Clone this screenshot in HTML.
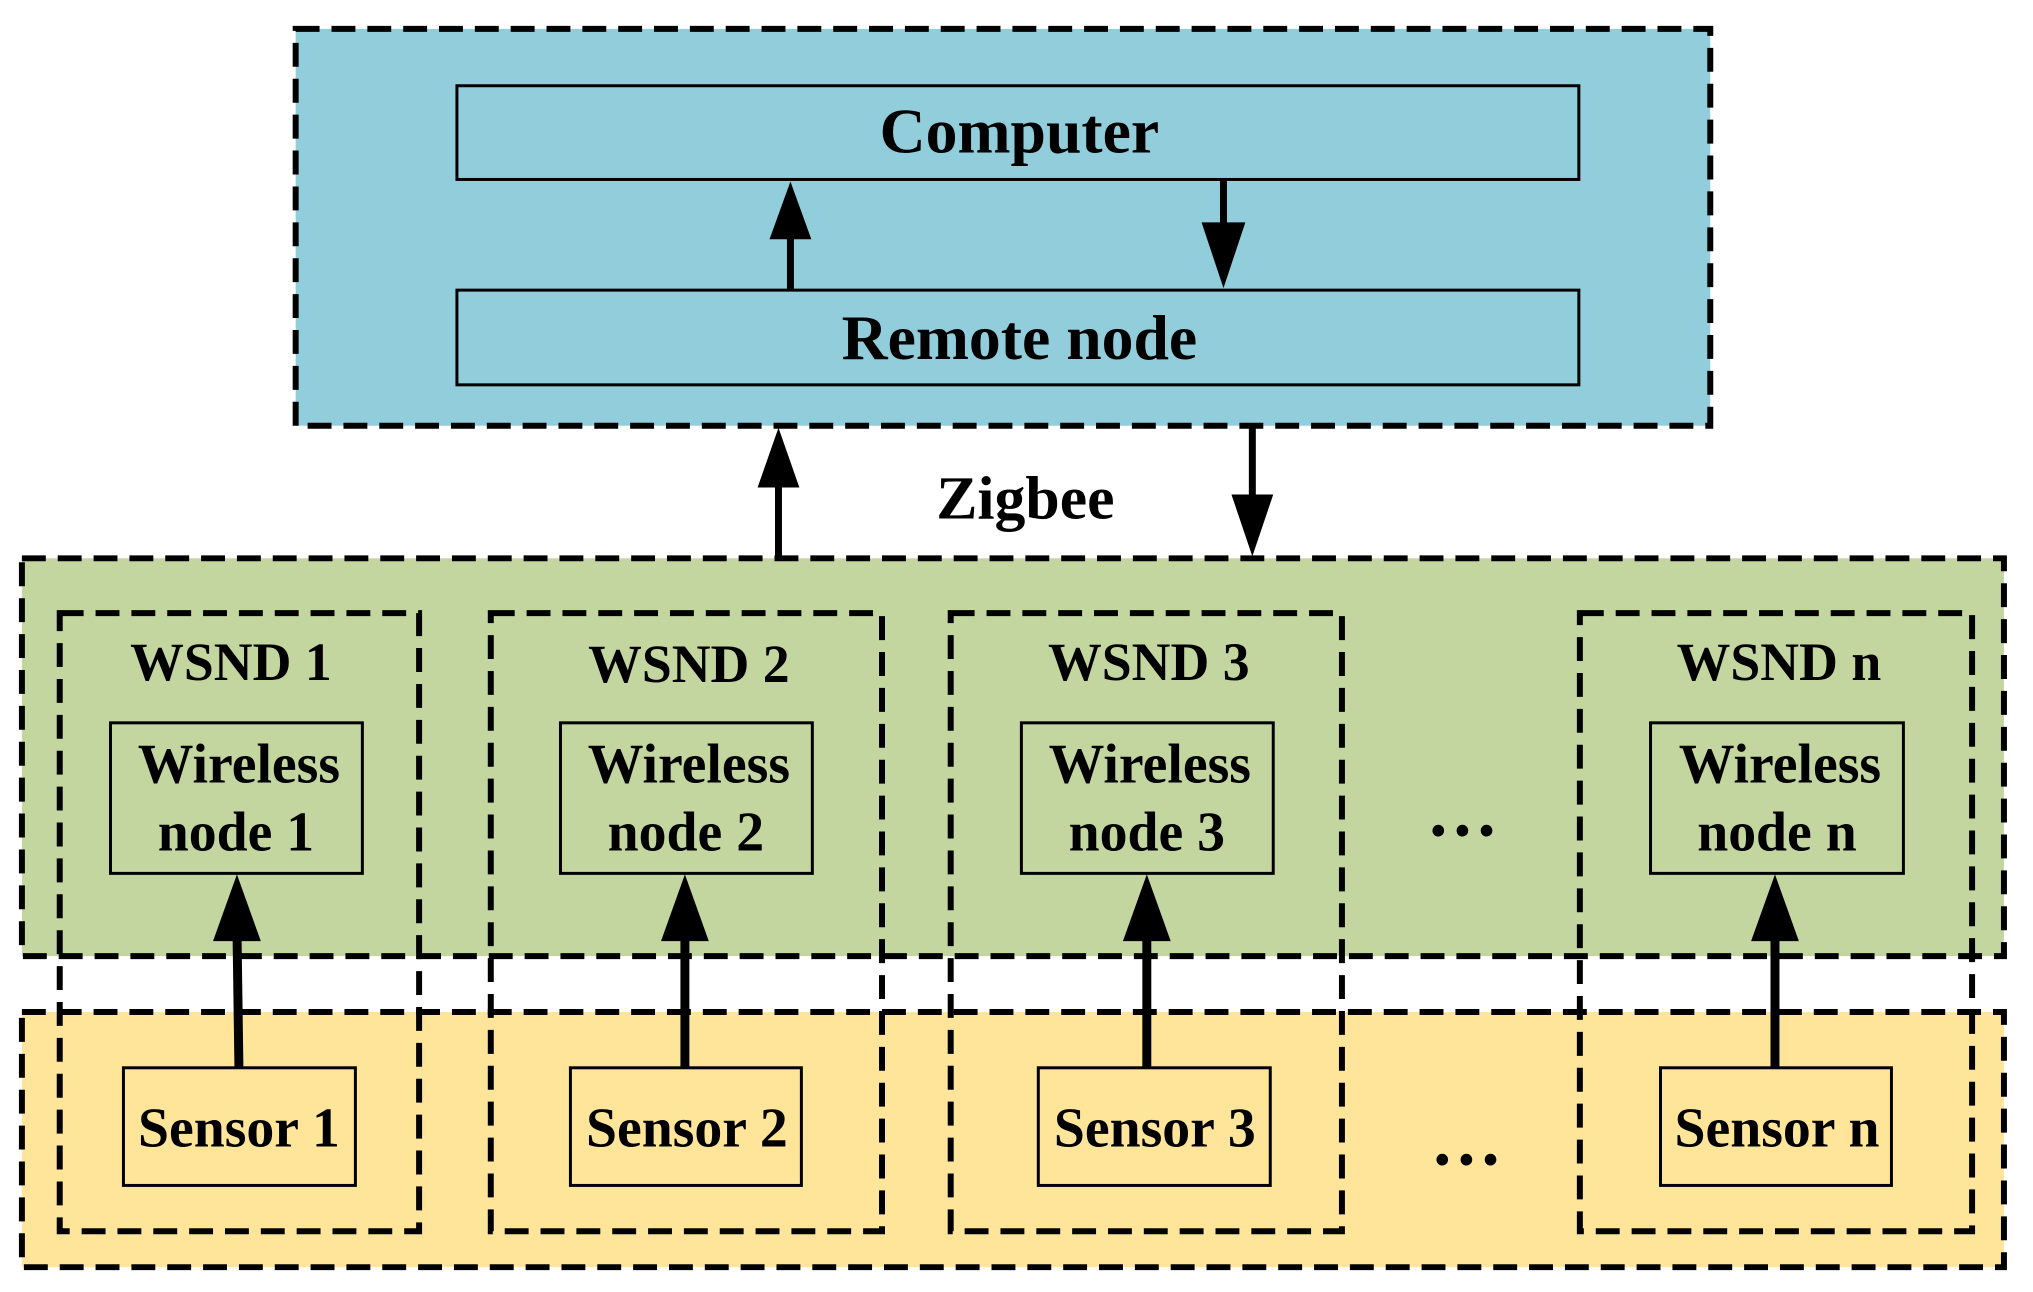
<!DOCTYPE html>
<html><head><style>body{margin:0;background:#fff}svg{display:block}text{font-family:"Liberation Serif",serif;font-weight:bold;fill:#000;text-anchor:middle}</style></head><body>
<svg width="2033" height="1292" viewBox="0 0 2033 1292" xmlns="http://www.w3.org/2000/svg">
<g transform="scale(0.9955,0.997)">
<g stroke="#000" stroke-width="6" stroke-dasharray="24 12">
<rect x="297" y="29" width="1421" height="398" fill="#92CDDC"/>
<rect x="22" y="1015" width="1991" height="256" fill="#FFE599"/>
<rect x="22" y="560" width="1991" height="399" fill="#C4D6A0"/>
</g>
<g stroke="#000" stroke-width="6" stroke-dasharray="24 12" fill="none">
<rect x="60" y="615" width="361" height="620"/>
<rect x="493" y="615" width="393" height="620"/>
<rect x="955" y="615" width="393" height="620"/>
<rect x="1587" y="615" width="394" height="620"/>
</g>
<g stroke="#000" stroke-width="3">
<rect x="459" y="86" width="1127" height="94" fill="#92CDDC"/>
<rect x="459" y="291" width="1127" height="95" fill="#92CDDC"/>
<rect x="111" y="725" width="253" height="151" fill="#C4D6A0"/>
<rect x="563" y="725" width="253" height="151" fill="#C4D6A0"/>
<rect x="1026" y="725" width="253" height="151" fill="#C4D6A0"/>
<rect x="1658" y="725" width="254" height="151" fill="#C4D6A0"/>
<rect x="124" y="1071" width="233" height="118" fill="#FFE599"/>
<rect x="573" y="1071" width="232" height="118" fill="#FFE599"/>
<rect x="1043" y="1071" width="233" height="118" fill="#FFE599"/>
<rect x="1668" y="1071" width="232" height="118" fill="#FFE599"/>
</g>
<g stroke="#000" stroke-width="7">
<line x1="794" y1="291" x2="794" y2="230"/>
<line x1="1229" y1="180" x2="1229" y2="240"/>
<line x1="782" y1="560" x2="782" y2="475"/>
<line x1="1258" y1="427" x2="1258" y2="510"/>
</g>
<g stroke="#000" stroke-width="9">
<line x1="240" y1="1071" x2="238" y2="930"/>
<line x1="688" y1="1071" x2="688" y2="930"/>
<line x1="1152" y1="1071" x2="1152" y2="930"/>
<line x1="1783" y1="1071" x2="1783" y2="930"/>
</g>
<g fill="#000">
<polygon points="794,182 773,240 815,240"/>
<polygon points="1229,289 1207,223 1251,223"/>
<polygon points="782,429 761,489 803,489"/>
<polygon points="1258,558 1237,496 1279,496"/>
<polygon points="238,877 214,944 262,944"/>
<polygon points="688,877 664,944 712,944"/>
<polygon points="1152,877 1128,944 1176,944"/>
<polygon points="1783,877 1759,944 1807,944"/>
</g>
<text x="1024" y="153" font-size="64">Computer</text>
<text x="1024" y="360" font-size="64">Remote node</text>
<text x="1030" y="520" font-size="62">Zigbee</text>
<g font-size="54">
<text x="232" y="682">WSND 1</text>
<text x="692" y="684">WSND 2</text>
<text x="1154" y="682">WSND 3</text>
<text x="1787" y="682">WSND n</text>
</g>
<g font-size="56">
<text x="240" y="785">Wireless</text><text x="237" y="853">node 1</text>
<text x="692" y="785">Wireless</text><text x="689" y="853">node 2</text>
<text x="1155" y="785">Wireless</text><text x="1152" y="853">node 3</text>
<text x="1788" y="785">Wireless</text><text x="1785" y="853">node n</text>
<text x="240" y="1150">Sensor 1</text>
<text x="690" y="1150">Sensor 2</text>
<text x="1160" y="1150">Sensor 3</text>
<text x="1785" y="1150">Sensor n</text>
</g>
<g font-size="72">
<text x="1469" y="838">…</text>
<text x="1473" y="1168">…</text>
</g>
</g>
</svg>
</body></html>
